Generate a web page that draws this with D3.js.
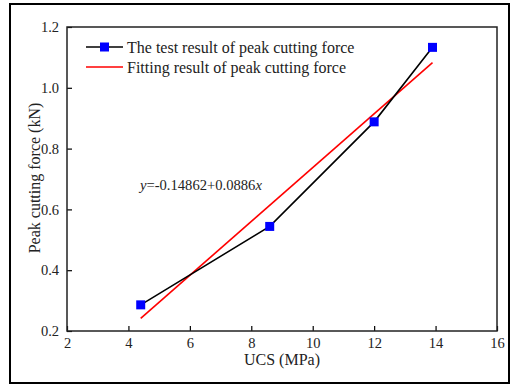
<!DOCTYPE html>
<html>
<head>
<meta charset="utf-8">
<script src="https://cdn.jsdelivr.net/npm/d3@7"></script>
<style>
  body { margin: 0; background: #fff; }
</style>
</head>
<body>
<div id="chart"></div>
<script>
// data
let ucs = [4.4, 8.6, 12.0, 13.9];
let peakForce = [0.286, 0.544, 0.888, 1.133];
let fitIntercept = -0.14862;
let fitSlope = 0.0886;
let xTicks = [2, 4, 6, 8, 10, 12, 14, 16];
let yTicks = [0.2, 0.4, 0.6, 0.8, 1.0, 1.2];

let width = 511;
let height = 385;
let plot = { left: 67, right: 497, top: 27, bottom: 331 };
let serif = "'Liberation Serif', 'Times New Roman', Times, serif";

let svg = d3
  .select("#chart")
  .append("svg")
  .attr("width", width)
  .attr("height", height)
  .attr("font-family", serif);

// outer frame
svg
  .append("rect")
  .attr("x", 10)
  .attr("y", 4)
  .attr("width", 499)
  .attr("height", 379)
  .attr("fill", "none")
  .attr("stroke", "#000")
  .attr("stroke-width", 2);

let xScale = d3.scaleLinear().domain([2, 16]).range([plot.left, plot.right]);
let yScale = d3.scaleLinear().domain([0.2, 1.2]).range([plot.bottom, plot.top]);

// axes, ticks pointing inward
let xAxis = d3
  .axisBottom(xScale)
  .tickValues(xTicks)
  .tickSize(-5)
  .tickPadding(5.5)
  .tickFormat(d3.format("d"));
let yAxis = d3
  .axisLeft(yScale)
  .tickValues(yTicks)
  .tickSize(-5)
  .tickPadding(8)
  .tickFormat(d3.format(".1f"));

let gx = svg
  .append("g")
  .attr("transform", `translate(0,${plot.bottom})`)
  .call(xAxis);
let gy = svg
  .append("g")
  .attr("transform", `translate(${plot.left},0)`)
  .call(yAxis);

[gx, gy].forEach(function(g) {
  g.attr("font-family", serif).attr("font-size", 14.5);
  g.select(".domain").remove();
  g.selectAll("line").attr("stroke", "#000").attr("stroke-width", 1.2);
  g.selectAll("text").attr("fill", "#222");
});
gx.selectAll("text").attr("dy", "0.8em");

// plot frame
svg
  .append("rect")
  .attr("x", plot.left)
  .attr("y", plot.top)
  .attr("width", plot.right - plot.left)
  .attr("height", plot.bottom - plot.top)
  .attr("fill", "none")
  .attr("stroke", "#222")
  .attr("stroke-width", 1.5);

// axis titles
svg
  .append("text")
  .attr("x", (plot.left + plot.right) / 2)
  .attr("y", 365)
  .attr("text-anchor", "middle")
  .attr("font-size", 16)
  .attr("fill", "#222")
  .text("UCS (MPa)");

svg
  .append("text")
  .attr("transform", `translate(40,178) rotate(-90)`)
  .attr("text-anchor", "middle")
  .attr("font-size", 16)
  .attr("fill", "#222")
  .text("Peak cutting force (kN)");

// fitted line
let fitX = [d3.min(ucs), d3.max(ucs)];
svg
  .append("line")
  .attr("x1", xScale(fitX[0]))
  .attr("y1", yScale(fitIntercept + fitSlope * fitX[0]))
  .attr("x2", xScale(fitX[1]))
  .attr("y2", yScale(fitIntercept + fitSlope * fitX[1]))
  .attr("stroke", "#ff0000")
  .attr("stroke-width", 1.6);

// test result line
let pts = ucs.map((d, i) => [d, peakForce[i]]);
let line = d3
  .line()
  .x(d => xScale(d[0]))
  .y(d => yScale(d[1]));
svg
  .append("path")
  .attr("d", line(pts))
  .attr("fill", "none")
  .attr("stroke", "#000")
  .attr("stroke-width", 1.6);

let ms = 9;
svg
  .selectAll(".pt")
  .data(pts)
  .enter()
  .append("rect")
  .attr("class", "pt")
  .attr("x", d => xScale(d[0]) - ms / 2)
  .attr("y", d => yScale(d[1]) - ms / 2)
  .attr("width", ms)
  .attr("height", ms)
  .attr("fill", "#0000ff");

// equation
let eq = svg
  .append("text")
  .attr("x", 140)
  .attr("y", 190)
  .attr("font-size", 14.6)
  .attr("fill", "#222");
eq.append("tspan").attr("font-style", "italic").text("y");
eq.append("tspan").text("=-0.14862+0.0886");
eq.append("tspan").attr("font-style", "italic").text("x");

// legend
let legend = svg.append("g");
legend
  .append("line")
  .attr("x1", 86)
  .attr("x2", 123)
  .attr("y1", 47)
  .attr("y2", 47)
  .attr("stroke", "#000")
  .attr("stroke-width", 1.6);
legend
  .append("rect")
  .attr("x", 104.5 - ms / 2)
  .attr("y", 47 - ms / 2)
  .attr("width", ms)
  .attr("height", ms)
  .attr("fill", "#0000ff");
legend
  .append("text")
  .attr("x", 127)
  .attr("y", 52.5)
  .attr("font-size", 16)
  .attr("fill", "#222")
  .text("The test result of peak cutting force");
legend
  .append("line")
  .attr("x1", 86)
  .attr("x2", 123)
  .attr("y1", 67)
  .attr("y2", 67)
  .attr("stroke", "#ff0000")
  .attr("stroke-width", 1.6);
legend
  .append("text")
  .attr("x", 127)
  .attr("y", 72.5)
  .attr("font-size", 16)
  .attr("fill", "#222")
  .text("Fitting result of peak cutting force");
</script>
</body>
</html>
